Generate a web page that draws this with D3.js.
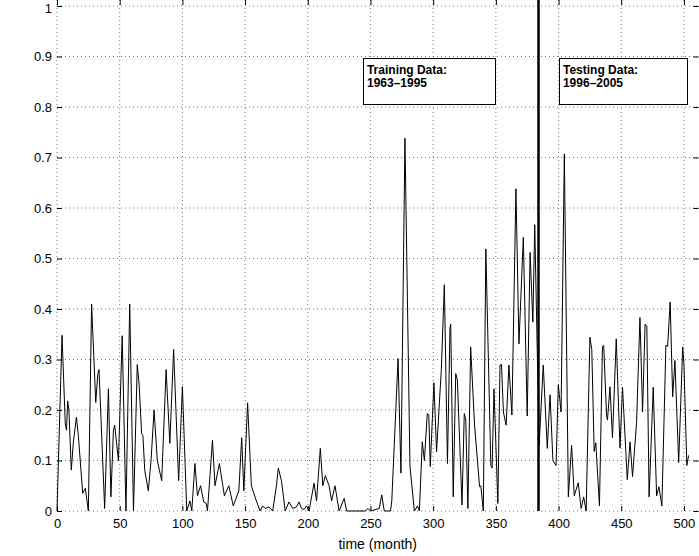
<!DOCTYPE html>
<html>
<head>
<meta charset="utf-8">
<script src="https://cdn.jsdelivr.net/npm/d3@7/dist/d3.min.js"></script>
<style>
  body { margin: 0; background: #fff; }
  svg { display: block; font-family: "Liberation Sans", Arial, Helvetica, sans-serif; }
</style>
</head>
<body>
<svg id="chart"></svg>
<script>
// months (x) and CPUE (y) vertices
var months = [0, 4, 6.6, 7.6, 8.5, 9.5, 11.4, 13, 15.5, 17, 20.5, 21.5, 22.6, 25, 27.6, 30.9, 32.5, 33.5, 38, 41,
  43, 45, 46, 49, 52, 55, 58, 61, 64, 65.5, 67.5, 68.5, 70, 72.8, 75, 77.4, 80, 83.5, 87, 90,
  93, 97, 100, 103.5, 106, 107.5, 110, 112, 114.5, 117, 119, 120, 124, 126, 129.5, 133.5, 137, 140.6, 145, 147.3,
  149, 152, 155, 159, 162, 164, 166, 169, 172, 175, 176.5, 179, 182, 185, 188, 191, 193, 195, 197, 199,
  201, 205, 207, 210, 212, 214, 217, 219, 221.7, 225, 229, 231, 246, 248, 250, 257, 259, 261, 266, 267,
  272, 274.3, 277.5, 281.5, 285, 287.5, 289, 291.3, 293, 295.3, 296.5, 297.7, 300.6, 302.7, 306.5, 308.9, 311.4, 313.4, 314, 316,
  318, 319.3, 323, 324.8, 326, 327.7, 329.9, 333, 337, 338, 340, 342, 346, 347, 348.5, 351.6, 353.3, 354.5, 356, 358.2,
  360.4, 362.8, 366, 368.4, 371.9, 375, 377.3, 379.5, 381, 384.5, 387.8, 391, 393.2, 395.5, 398, 399.8, 402, 404.6, 407.8, 410.4,
  412.5, 415.7, 418, 420, 422, 425, 426.5, 428.4, 429.7, 432.6, 435, 436, 438.3, 439, 441, 443, 446, 449, 451, 454.8,
  457, 459, 462.2, 464.9, 467, 469, 470.4, 472.2, 475.5, 478.2, 480, 482.4, 485.6, 487, 489, 491, 492.8, 495.8, 499, 500,
  502.3, 503.7];
var cpue = [0, 0.348, 0.173, 0.16, 0.218, 0.2, 0.081, 0.135, 0.186, 0.15, 0.035, 0.04, 0.045, 0, 0.41, 0.215, 0.27, 0.28, 0.005, 0.242,
  0.028, 0.16, 0.17, 0.1, 0.347, 0, 0.41, 0, 0.29, 0.25, 0.153, 0.15, 0.08, 0.04, 0.1, 0.2, 0.1, 0.06, 0.28, 0.134,
  0.32, 0.06, 0.246, 0, 0.02, 0, 0.094, 0.03, 0.05, 0.018, 0.015, 0, 0.14, 0.05, 0.094, 0.03, 0.05, 0.01, 0.04, 0.145,
  0.04, 0.214, 0.05, 0.02, 0, 0.01, 0.005, 0.008, 0, 0.05, 0.085, 0.06, 0, 0.018, 0.005, 0.008, 0.018, 0.005, 0.003, 0.01,
  0, 0.055, 0.02, 0.124, 0.05, 0.07, 0.05, 0.02, 0.05, 0, 0.025, 0, 0, 0.005, 0, 0.005, 0.032, 0, 0, 0.02,
  0.302, 0.075, 0.738, 0.088, 0, 0.01, 0, 0.137, 0.1, 0.193, 0.19, 0.088, 0.254, 0.117, 0.28, 0.448, 0.094, 0.363, 0.37, 0.028,
  0.272, 0.26, 0.012, 0.193, 0.18, 0.005, 0.325, 0.17, 0.048, 0.05, 0, 0.519, 0.09, 0.085, 0.242, 0.015, 0.289, 0.29, 0.196, 0.17,
  0.289, 0.19, 0.638, 0.331, 0.542, 0.188, 0.512, 0.374, 0.567, 0.13, 0.289, 0.124, 0.23, 0.1, 0.09, 0.25, 0.196, 0.707, 0.028, 0.13,
  0.03, 0.056, 0.005, 0.028, 0, 0.344, 0.32, 0.118, 0.135, 0.01, 0.325, 0.328, 0.19, 0.18, 0.246, 0.145, 0.341, 0.125, 0.245, 0.062,
  0.137, 0.068, 0.175, 0.383, 0.196, 0.37, 0.366, 0.028, 0.245, 0.03, 0.048, 0.01, 0.328, 0.326, 0.414, 0.226, 0.298, 0.096, 0.325, 0.29,
  0.09, 0.11];

var xTicks = [0, 50, 100, 150, 200, 250, 300, 350, 400, 450, 500];
var yTicks = [0, 0.1, 0.2, 0.3, 0.4, 0.5, 0.6, 0.7, 0.8, 0.9, 1];
var yTickLabels = ['0', '0.1', '0.2', '0.3', '0.4', '0.5', '0.6', '0.7', '0.8', '0.9', '1'];
var splitMonth = 384;
var boxLabels = [
  {x0: 244, x1: 349, y0: 0.897, y1: 0.806, lines: ['Training Data:', '1963\u20131995']},
  {x0: 400.3, x1: 502.4, y0: 0.897, y1: 0.806, lines: ['Testing Data:', '1996\u20132005']}
];

var W = 699, H = 556;
var margin = {top: 6, right: 0, bottom: 45, left: 57};
var svg = d3.select('#chart').attr('width', W).attr('height', H);

var x = d3.scaleLinear().domain([0, 512]).range([margin.left, W - margin.right]);
var y = d3.scaleLinear().domain([0, 1]).range([H - margin.bottom, margin.top]);

var left = x(0), right = x(512) - 0.5, top = y(1), bottom = y(0);

// dotted grid
var grid = svg.append('g').attr('stroke', '#555').attr('stroke-width', 0.8).attr('stroke-dasharray', '1,3');
grid.selectAll('.gx').data(xTicks).enter().append('line')
  .attr('x1', function(d) { return x(d); }).attr('x2', function(d) { return x(d); })
  .attr('y1', top).attr('y2', bottom);
grid.selectAll('.gy').data(yTicks).enter().append('line')
  .attr('x1', left).attr('x2', right)
  .attr('y1', function(d) { return y(d); }).attr('y2', function(d) { return y(d); });

// series
var line = d3.line()
  .x(function(d) { return x(d[0]); })
  .y(function(d) { return y(d[1]); });
svg.append('path')
  .datum(d3.zip(months, cpue))
  .attr('fill', 'none')
  .attr('stroke', '#000')
  .attr('stroke-width', 1)
  .attr('stroke-linejoin', 'round')
  .attr('d', line);

// split line
svg.append('line')
  .attr('x1', x(splitMonth)).attr('x2', x(splitMonth))
  .attr('y1', top).attr('y2', bottom)
  .attr('stroke', '#000').attr('stroke-width', 2.5);

// annotation boxes
boxLabels.forEach(function(b) {
  var g = svg.append('g');
  g.append('rect')
    .attr('x', Math.round(x(b.x0)) + 0.5).attr('y', Math.round(y(b.y0)) + 0.5)
    .attr('width', Math.round(x(b.x1) - x(b.x0))).attr('height', Math.round(y(b.y1) - y(b.y0)))
    .attr('fill', '#fff').attr('stroke', '#000').attr('stroke-width', 1);
  g.selectAll('text').data(b.lines).enter().append('text')
    .attr('x', x(b.x0) + 4)
    .attr('y', function(d, i) { return y(b.y0) + 16 + i * 13; })
    .attr('font-size', 12).attr('font-weight', 'bold')
    .text(function(d) { return d; });
});

// axes, ticks inward on all four sides
var fs = 13;
var xAxis = svg.append('g').attr('transform', 'translate(0,' + bottom + ')')
  .call(d3.axisBottom(x).tickValues(xTicks).tickSizeInner(-5).tickSizeOuter(0).tickPadding(8));
var xTop = svg.append('g').attr('transform', 'translate(0,' + top + ')')
  .call(d3.axisTop(x).tickValues(xTicks).tickSizeInner(-5).tickSizeOuter(0));
var yAxis = svg.append('g').attr('transform', 'translate(' + left + ',0)')
  .call(d3.axisLeft(y).tickValues(yTicks).tickSizeInner(-5).tickSizeOuter(0).tickPadding(5)
    .tickFormat(function(d, i) { return yTickLabels[i]; }));
var yRight = svg.append('g').attr('transform', 'translate(' + right + ',0)')
  .call(d3.axisRight(y).tickValues(yTicks).tickSizeInner(-5).tickSizeOuter(0));
xTop.selectAll('text').remove();
yRight.selectAll('text').remove();
[xAxis, xTop, yAxis, yRight].forEach(function(a) {
  a.select('.domain').remove();
  a.selectAll('line').attr('stroke', '#000');
  a.selectAll('text').attr('font-size', fs).attr('font-family', null).attr('fill', '#000');
});
// keep the top label inside the page
yAxis.selectAll('text').filter(function(d) { return d === 1; }).attr('dy', '0.5em');

svg.append('rect')
  .attr('x', left + 0.5).attr('y', top + 0.5)
  .attr('width', right - left - 0.5).attr('height', bottom - top)
  .attr('fill', 'none').attr('stroke', '#000').attr('stroke-width', 1);

svg.append('text')
  .attr('x', (left + right) / 2).attr('y', 549)
  .attr('text-anchor', 'middle').attr('font-size', 14)
  .text('time (month)');
svg.append('text')
  .attr('transform', 'translate(16,' + ((top + bottom) / 2) + ') rotate(-90)')
  .attr('text-anchor', 'middle').attr('font-size', 14)
  .text('CPUE');
</script>
</body>
</html>
